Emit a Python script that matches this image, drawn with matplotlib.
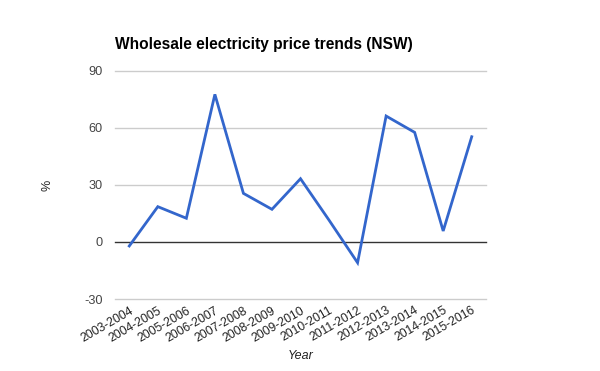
import matplotlib
matplotlib.use("Agg")
import matplotlib.pyplot as plt

years = ["2003-2004", "2004-2005", "2005-2006", "2006-2007", "2007-2008",
         "2008-2009", "2009-2010", "2010-2011", "2011-2012", "2012-2013",
         "2013-2014", "2014-2015", "2015-2016"]
values = [-2.1, 18.6, 12.5, 77.7, 25.6, 17.2, 33.3, 11.5, -10.9, 66.3, 57.7, 5.8, 55.4]
yticks = [-30, 0, 30, 60, 90]

plt.rcParams['font.family'] = ['Liberation Sans', 'DejaVu Sans']

fig = plt.figure(figsize=(6, 3.71), dpi=100)
ax = fig.add_axes([115/600, 1-299/371, 371/600, 228/371])

x = list(range(len(years)))
for t in yticks:
    if t == 0:
        ax.axhline(t, color='#333333', lw=1, zorder=2, clip_on=False)
    else:
        ax.axhline(t, color='#cccccc', lw=1, zorder=1, clip_on=False)
ax.plot(x, values, color='#3366cc', lw=2, zorder=3, solid_joinstyle='miter')

ax.set_xlim(-0.5, len(years) - 0.5)
ax.set_ylim(-30, 90)
ax.set_yticks(yticks)
ax.set_yticklabels([str(t) for t in yticks], fontsize=9.2, color='#444444')
ax.set_xticks(x)
ax.set_xticklabels(years, fontsize=8.8, color='#222222', rotation=30,
                   ha='right', va='top', rotation_mode='anchor')
ax.tick_params(axis='both', length=0)
ax.tick_params(axis='y', pad=9)
ax.tick_params(axis='x', pad=4)
for s in ax.spines.values():
    s.set_visible(False)

ax.set_xlabel('Year', fontsize=9, style='italic', color='#222222', labelpad=4)
ax.set_ylabel('%', fontsize=9, color='#222222', labelpad=22)

fig.text(115/600, 1-45/371, 'Wholesale electricity price trends (NSW)',
         fontsize=11.2, fontweight='bold', color='#000000', ha='left', va='center')

fig.savefig('out.png', dpi=100)
